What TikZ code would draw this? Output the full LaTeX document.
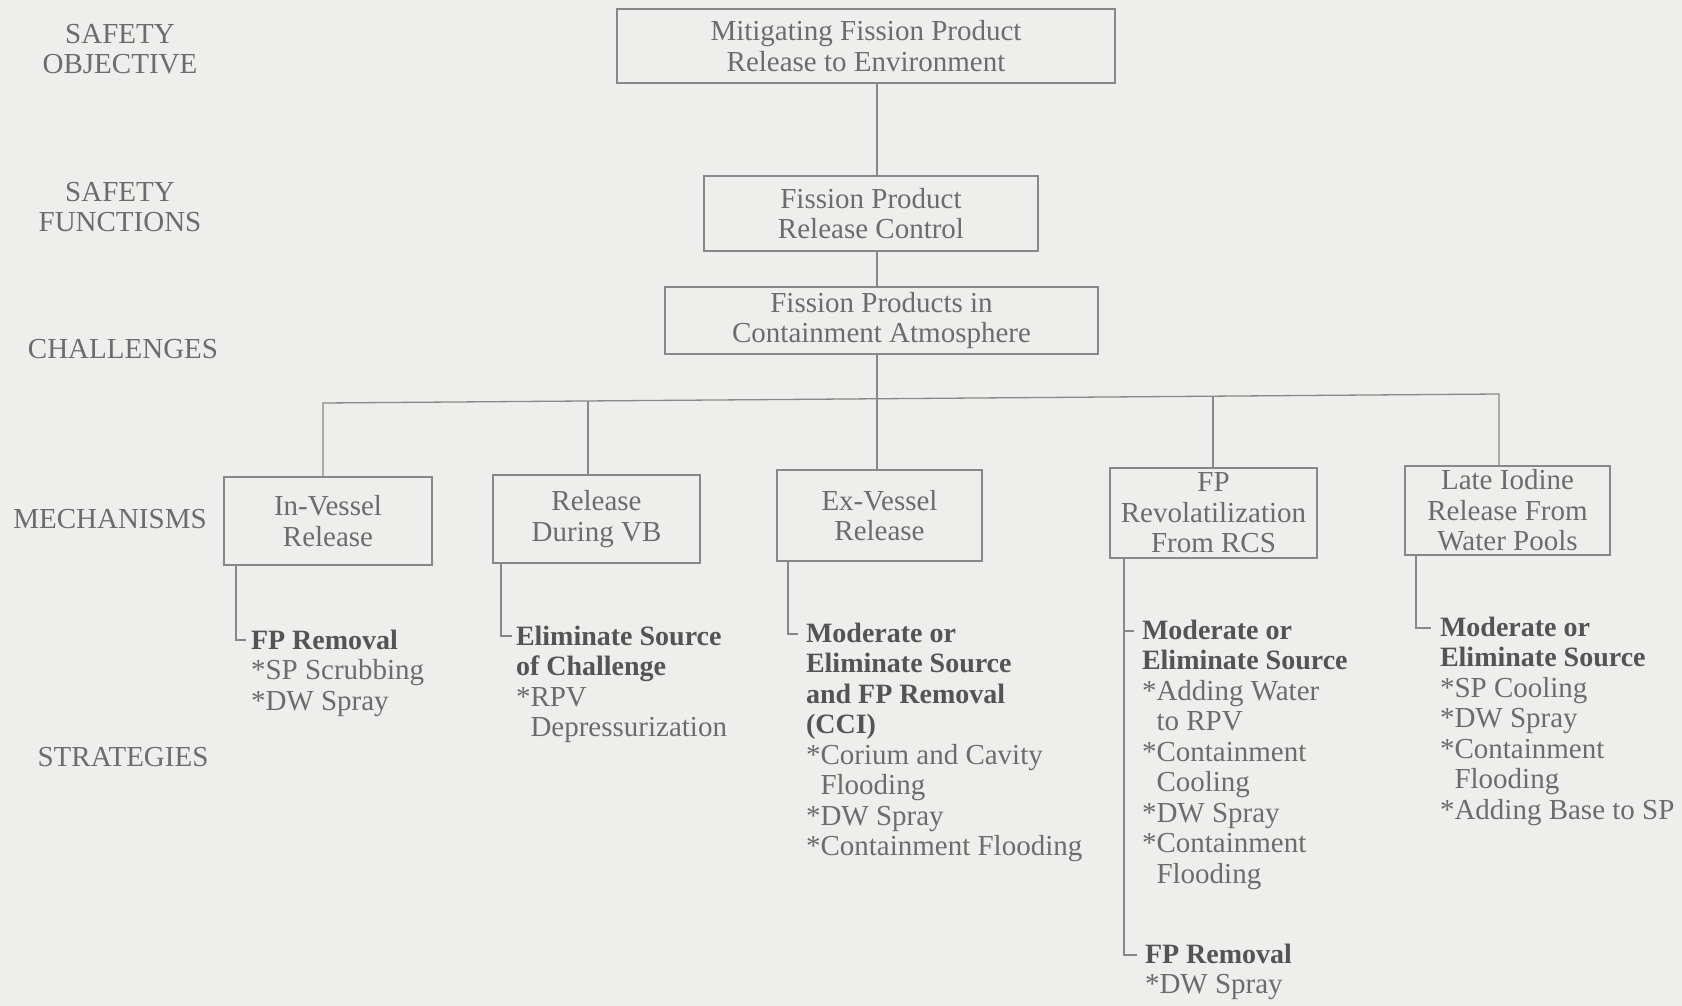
\documentclass[tikz,border=0pt]{standalone}
\usepackage{fontspec}
\setmainfont{Liberation Serif}
\usetikzlibrary{calc}
\definecolor{paper}{HTML}{EEEEEC}
\definecolor{ink}{HTML}{6C6C6C}
\definecolor{inkbold}{HTML}{545454}
\definecolor{rulecol}{HTML}{888888}
\newcommand\hd[1]{{\fontsize{28}{30.5}\selectfont\bfseries\color{inkbold}#1}}
\begin{document}
\begin{tikzpicture}[x=1pt,y=-1pt,
  every node/.style={inner sep=0pt, outer sep=0pt, text=ink,
    font=\fontsize{29}{30.5}\selectfont},
  fbox/.style={draw=rulecol, line width=1.3pt, align=center, fill=paper},
  lvl/.style={align=center},
  strat/.style={align=left, anchor=north west},
  link/.style={draw=rulecol, line width=1.3pt}]

% page
\fill[paper] (0,0) rectangle (1682,1006);
\useasboundingbox (0,0) rectangle (1682,1006);

% level labels
\node[lvl] (lobj) at (120,49)  {SAFETY\\OBJECTIVE};
\node[lvl] (lfun) at (120,207) {SAFETY\\FUNCTIONS};
\node[lvl] (lcha) at (123,349) {CHALLENGES};
\node[lvl] (lmec) at (110,519) {MECHANISMS};
\node[lvl] (lstr) at (123,757) {STRATEGIES};

% upper chain
\node[fbox, minimum width=498pt, minimum height=74pt] (obj) at (866,46)
  {Mitigating Fission Product\\Release to Environment};
\node[fbox, minimum width=334pt, minimum height=75pt] (fpc) at (871,213.5)
  {Fission Product\\Release Control};
\node[fbox, minimum width=433pt, minimum height=67pt] (cha) at (881.5,320.5)
  {Fission Products in\\Containment Atmosphere};

% mechanisms
\node[fbox, minimum width=208pt, minimum height=88pt] (m1) at (328,521)
  {In-Vessel\\Release};
\node[fbox, minimum width=207pt, minimum height=88pt] (m2) at (596.5,519)
  {Release\\During VB};
\node[fbox, minimum width=205pt, minimum height=91pt] (m3) at (879.5,515.5)
  {Ex-Vessel\\Release};
\node[fbox, minimum width=207pt, minimum height=90pt] (m4) at (1213.5,513)
  {FP\\Revolatilization\\From RCS};
\node[fbox, minimum width=205pt, minimum height=89pt] (m5) at (1507.5,510.5)
  {Late Iodine\\Release From\\Water Pools};

% strategies
\node[strat] (s1) at (251,630)
  {\hd{FP Removal}\\*SP Scrubbing\\*DW Spray};
\node[strat] (s2) at (516,626)
  {\hd{Eliminate Source}\\\hd{of Challenge}\\*RPV\\\phantom{*}Depressurization};
\node[strat] (s3) at (806,623)
  {\hd{Moderate or}\\\hd{Eliminate Source}\\\hd{and FP Removal}\\\hd{(CCI)}\\
   *Corium and Cavity\\\phantom{*}Flooding\\*DW Spray\\*Containment Flooding};
\node[strat] (s4a) at (1142,620)
  {\hd{Moderate or}\\\hd{Eliminate Source}\\*Adding Water\\\phantom{*}to RPV\\
   *Containment\\\phantom{*}Cooling\\*DW Spray\\*Containment\\\phantom{*}Flooding};
\node[strat] (s4b) at (1145,944)
  {\hd{FP Removal}\\*DW Spray};
\node[strat] (s5) at (1440,617)
  {\hd{Moderate or}\\\hd{Eliminate Source}\\*SP Cooling\\*DW Spray\\
   *Containment\\\phantom{*}Flooding\\*Adding Base to SP};

% connector positions (the bus rises slightly to the right)
\coordinate (spine) at (877,398.8);
\coordinate (d1) at (323,403);
\coordinate (d2) at (588,401);
\coordinate (d3) at (877,398.8);
\coordinate (d4) at (1213,396.2);
\coordinate (d5) at (1499,394);
\coordinate (b1) at (236,0);
\coordinate (b2) at (501,0);
\coordinate (b3) at (788,0);
\coordinate (b4) at (1124,0);
\coordinate (b5) at (1416,0);
\coordinate (h1)  at ($(s1.north west)+(-5,10)$);
\coordinate (h2)  at ($(s2.north west)+(-4,10)$);
\coordinate (h3)  at ($(s3.north west)+(-8,11)$);
\coordinate (h4a) at ($(s4a.north west)+(-8,11)$);
\coordinate (h4b) at ($(s4b.north west)+(-8,11)$);
\coordinate (h5)  at ($(s5.north west)+(-9,11)$);

% upper links
\draw[link] (obj.south -| spine) -- (fpc.north -| spine);
\draw[link] (fpc.south -| spine) -- (cha.north -| spine);
\draw[link] (cha.south -| spine) -- (spine);

% bus and drops
\draw[link] (m1.north -| d1) -- (d1) -- (d5) -- (m5.north -| d5);
\draw[link] (d2) -- (m2.north -| d2);
\draw[link] (d3) -- (m3.north -| d3);
\draw[link] (d4) -- (m4.north -| d4);

% strategy brackets
\draw[link] (m1.south -| b1) |- (h1);
\draw[link] (m2.south -| b2) |- (h2);
\draw[link] (m3.south -| b3) |- (h3);
\draw[link] (m4.south -| b4) |- (h4b);
\draw[link] (b4 |- h4a) -- (h4a);
\draw[link] (m5.south -| b5) |- (h5);
\end{tikzpicture}
\end{document}
